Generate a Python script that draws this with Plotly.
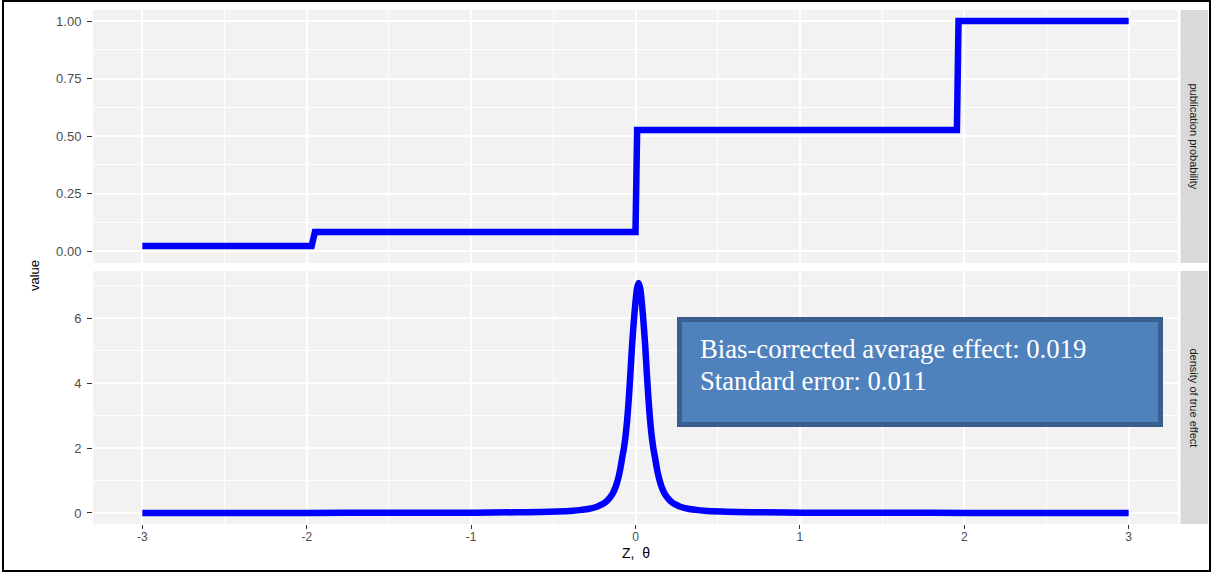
import plotly.graph_objects as go

# ---------------- data ----------------
# publication probability step function (Z vs probability)
z_step = [-3.0, -1.97, -1.95, 0.0, 0.01, 1.955, 1.965, 3.0]
p_step = [0.022, 0.022, 0.083, 0.083, 0.526, 0.526, 1.0, 1.0]

# density of true effect (half-profile around the mean)
theta_mean = 0.019
theta_offset = [0.0, 0.01, 0.02, 0.03, 0.04, 0.05, 0.06, 0.07, 0.08, 0.09, 0.10,
                0.11, 0.12, 0.13, 0.14, 0.16, 0.18, 0.20, 0.22, 0.25, 0.30, 0.35,
                0.40, 0.50, 0.60, 0.75, 1.0, 1.5, 2.0, 3.02]
density_half = [7.08, 6.90, 6.45, 5.85, 5.15, 4.30, 3.50, 2.85, 2.35, 1.98, 1.70,
                1.40, 1.15, 0.96, 0.80, 0.58, 0.44, 0.34, 0.27, 0.20, 0.13, 0.095,
                0.07, 0.045, 0.032, 0.02, 0.01, 0.005, 0.002, 0.0]
theta_limits = [-3.0, 3.0]

x_ticks = [-3, -2, -1, 0, 1, 2, 3]
top_ticks = [0.0, 0.25, 0.5, 0.75, 1.0]
top_labels = ["0.00", "0.25", "0.50", "0.75", "1.00"]
bot_ticks = [0, 2, 4, 6]
facet_labels = ["publication probability", "density of true effect"]
box_lines = ["Bias-corrected average effect: 0.019", "Standard error: 0.011"]
x_title = "Z,  \u03b8"
y_title = "value"

# build mirrored density curve, clipped to the plotted theta range
theta = [theta_mean - o for o in reversed(theta_offset)] + [theta_mean + o for o in theta_offset[1:]]
theta = [min(max(t, theta_limits[0]), theta_limits[1]) for t in theta]
dens = list(reversed(density_half)) + density_half[1:]

# ---------------- layout helpers ----------------
W, H = 1212, 572
L, R, T, B = 93, 1178, 10, 524


def px(xp):
    return (xp - L) / (R - L)


def py(yp):
    return (B - yp) / (B - T)


top_dom = [py(263), 1.0]
bot_dom = [0.0, py(271)]

BLUE = "#0000FF"
PANEL = "#F2F2F2"
STRIP = "#D9D9D9"
SANS = "Liberation Sans, Arial, sans-serif"
YTICKFONT = dict(family=SANS, size=13, color="#4D4D4D")
XTICKFONT = dict(family=SANS, size=12, color="#4D4D4D")

fig = go.Figure()
fig.add_trace(go.Scatter(x=z_step, y=p_step, mode="lines", xaxis="x", yaxis="y",
                         line=dict(color=BLUE, width=6.5), showlegend=False, hoverinfo="skip"))
fig.add_trace(go.Scatter(x=theta, y=dens, mode="lines", xaxis="x2", yaxis="y2",
                         line=dict(color=BLUE, width=6.5, shape="spline", smoothing=0.8),
                         showlegend=False, hoverinfo="skip"))

grid_major = dict(showgrid=True, gridcolor="white", gridwidth=1.6, zeroline=False)
xcommon = dict(range=[-3.3, 3.3], tickvals=x_ticks, **grid_major,
               minor=dict(dtick=0.5, tick0=0, showgrid=True, gridcolor="white", gridwidth=0.8))

fig.update_layout(
    width=W, height=H,
    margin=dict(l=L, r=W - R, t=T, b=H - B, autoexpand=False),
    paper_bgcolor="white", plot_bgcolor=PANEL,
    xaxis=dict(domain=[0, 1], anchor="y", showticklabels=False, ticks="", **xcommon),
    xaxis2=dict(domain=[0, 1], anchor="y2", matches="x", showticklabels=True,
                ticks="outside", ticklen=4, tickwidth=1, tickcolor="#333333",
                tickfont=XTICKFONT, ticktext=[str(v) for v in x_ticks],
                ticklabelstandoff=-2, **xcommon),
    yaxis=dict(domain=top_dom, anchor="x", range=[-0.052, 1.048], tickvals=top_ticks,
               ticktext=top_labels, ticks="outside", ticklen=5, tickwidth=1,
               tickcolor="#333333", tickfont=YTICKFONT, ticklabelstandoff=3, **grid_major,
               minor=dict(dtick=0.125, tick0=0, showgrid=True, gridcolor="white", gridwidth=0.8)),
    yaxis2=dict(domain=bot_dom, anchor="x2", range=[-0.34, 7.45], tickvals=bot_ticks,
                ticks="outside", ticklen=5, tickwidth=1, tickcolor="#333333",
                tickfont=YTICKFONT, ticklabelstandoff=3, **grid_major,
                minor=dict(dtick=1, tick0=0, showgrid=True, gridcolor="white", gridwidth=0.8)),
)

shapes = []
# facet strips
for dom in (top_dom, bot_dom):
    shapes.append(dict(type="rect", xref="paper", yref="paper", x0=px(1180.5), x1=px(1208),
                       y0=dom[0], y1=dom[1], fillcolor=STRIP, line=dict(width=0), layer="below"))
# annotation box
shapes.append(dict(type="rect", xref="paper", yref="paper", x0=px(679.5), x1=px(1160.5),
                   y0=py(424.5), y1=py(319.5), fillcolor="#4F81BD",
                   line=dict(color="#3A5F8C", width=5), layer="above"))
# outer frame
shapes.append(dict(type="rect", xref="paper", yref="paper", x0=px(3), x1=px(1210),
                   y0=py(571), y1=py(1), fillcolor="rgba(0,0,0,0)",
                   line=dict(color="black", width=2), layer="above"))

annotations = []
for lab, yc in zip(facet_labels, [(T + 263) / 2, (271 + B) / 2]):
    annotations.append(dict(text=lab, xref="paper", yref="paper", x=px(1194), y=py(yc),
                            showarrow=False, textangle=90, xanchor="center", yanchor="middle",
                            font=dict(family=SANS, size=11, color="#1A1A1A")))
annotations.append(dict(text=y_title, xref="paper", yref="paper", x=px(35), y=py(276),
                        showarrow=False, textangle=-90, xanchor="center", yanchor="middle",
                        font=dict(family=SANS, size=13, color="black")))
annotations.append(dict(text=x_title, xref="paper", yref="paper", x=px(636), y=py(553),
                        showarrow=False, xanchor="center", yanchor="middle",
                        font=dict(family=SANS, size=14, color="black")))
for line, yc in zip(box_lines, [349, 381]):
    annotations.append(dict(text=line, xref="paper", yref="paper", x=px(698), y=py(yc),
                            showarrow=False, xanchor="left", yanchor="middle",
                            font=dict(family="Liberation Serif, Times New Roman, serif", size=26.7,
                                      color="white")))

fig.update_layout(shapes=shapes, annotations=annotations)
fig.write_html("out.html", config={"displayModeBar": False},
               post_script="document.body.style.margin='0';document.body.style.overflow='hidden';")
